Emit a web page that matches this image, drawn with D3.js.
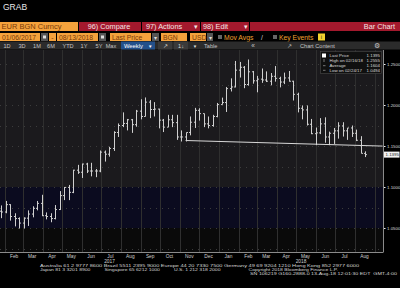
<!doctype html>
<html>
<head>
<meta charset='utf-8'>
<title>EUR BGN Curncy - Bar Chart</title>
<script src='https://d3js.org/d3.v7.min.js'></script>
<style>
  body { margin: 0; background: #000; }
  svg { display: block; font-family: 'Liberation Sans', Arial, sans-serif; }
</style>
</head>
<body>
<svg width='400' height='288'></svg>
<script>
// weekly bars (week ending), last one is the partial week of 13-Aug-18
var weeks = ['2017-01-06','2017-01-13','2017-01-20','2017-01-27','2017-02-03','2017-02-10','2017-02-17','2017-02-24',
  '2017-03-03','2017-03-10','2017-03-17','2017-03-24','2017-03-31','2017-04-07','2017-04-14','2017-04-21','2017-04-28',
  '2017-05-05','2017-05-12','2017-05-19','2017-05-26','2017-06-02','2017-06-09','2017-06-16','2017-06-23','2017-06-30',
  '2017-07-07','2017-07-14','2017-07-21','2017-07-28','2017-08-04','2017-08-11','2017-08-18','2017-08-25',
  '2017-09-01','2017-09-08','2017-09-15','2017-09-22','2017-09-29','2017-10-06','2017-10-13','2017-10-20','2017-10-27',
  '2017-11-03','2017-11-10','2017-11-17','2017-11-24','2017-12-01','2017-12-08','2017-12-15','2017-12-22','2017-12-29',
  '2018-01-05','2018-01-12','2018-01-19','2018-01-26','2018-02-02','2018-02-09','2018-02-16','2018-02-23',
  '2018-03-02','2018-03-09','2018-03-16','2018-03-23','2018-03-30','2018-04-06','2018-04-13','2018-04-20','2018-04-27',
  '2018-05-04','2018-05-11','2018-05-18','2018-05-25','2018-06-01','2018-06-08','2018-06-15','2018-06-22','2018-06-29',
  '2018-07-06','2018-07-13','2018-07-20','2018-07-27','2018-08-03','2018-08-10','2018-08-17'];
var opens = [1.0460,1.0530,1.0645,1.0705,1.0695,1.0785,1.0640,1.0615,
  1.0560,1.0620,1.0670,1.0740,1.0800,1.0650,1.0640,1.0615,1.0725,
  1.0895,1.0995,1.0935,1.1205,1.1180,1.1280,1.1195,1.1195,1.1195,
  1.1425,1.1400,1.1470,1.1665,1.1750,1.1775,1.1820,1.1760,
  1.1925,1.1860,1.2035,1.1945,1.1950,1.1815,1.1730,1.1820,1.1785,
  1.1610,1.1610,1.1665,1.1790,1.1935,1.1895,1.1770,1.1750,1.1860,
  1.2005,1.2030,1.2200,1.2220,1.2425,1.2460,1.2250,1.2405,
  1.2295,1.2315,1.2305,1.2290,1.2350,1.2325,1.2280,1.2330,1.2290,
  1.2130,1.1960,1.1940,1.1765,1.1650,1.1660,1.1770,1.1610,1.1655,
  1.1685,1.1745,1.1685,1.1720,1.1655,1.1570,1.1410];
var highs = [1.0630,1.0685,1.0775,1.0775,1.0830,1.0790,1.0680,1.0630,
  1.0630,1.0715,1.0765,1.0830,1.0905,1.0690,1.0680,1.0780,1.0950,
  1.1000,1.1025,1.1210,1.1270,1.1285,1.1295,1.1295,1.1220,1.1445,
  1.1445,1.1490,1.1680,1.1775,1.1910,1.1830,1.1830,1.1940,
  1.2070,1.2092,1.2060,1.2035,1.1955,1.1830,1.1880,1.1880,1.1880,
  1.1690,1.1665,1.1860,1.1965,1.1960,1.1895,1.1860,1.1880,1.2025,
  1.2090,1.2220,1.2325,1.2537,1.2525,1.2475,1.2555,1.2415,
  1.2355,1.2445,1.2410,1.2390,1.2475,1.2345,1.2395,1.2415,1.2295,
  1.2150,1.1995,1.1995,1.1830,1.1725,1.1840,1.1850,1.1675,1.1720,
  1.1790,1.1790,1.1720,1.1750,1.1700,1.1620,1.1435];
var lows = [1.0340,1.0455,1.0575,1.0620,1.0680,1.0590,1.0520,1.0494,
  1.0495,1.0525,1.0630,1.0715,1.0645,1.0605,1.0570,1.0605,1.0720,
  1.0840,1.0840,1.0925,1.1160,1.1110,1.1170,1.1130,1.1120,1.1180,
  1.1310,1.1370,1.1440,1.1610,1.1730,1.1690,1.1660,1.1735,
  1.1825,1.1860,1.1840,1.1860,1.1715,1.1670,1.1730,1.1730,1.1575,
  1.1555,1.1555,1.1630,1.1720,1.1810,1.1730,1.1715,1.1735,1.1850,
  1.2005,1.1915,1.2165,1.2215,1.2335,1.2205,1.2235,1.2260,
  1.2155,1.2270,1.2280,1.2240,1.2285,1.2215,1.2255,1.2285,1.2055,
  1.1910,1.1825,1.1750,1.1645,1.1510,1.1645,1.1540,1.1510,1.1525,
  1.1590,1.1615,1.1575,1.1610,1.1560,1.1410,1.1365];
var closes = [1.0530,1.0645,1.0705,1.0695,1.0785,1.0640,1.0615,1.0560,
  1.0620,1.0670,1.0740,1.0800,1.0650,1.0640,1.0615,1.0725,1.0895,
  1.0995,1.0935,1.1205,1.1180,1.1280,1.1195,1.1195,1.1195,1.1425,
  1.1400,1.1470,1.1665,1.1750,1.1775,1.1820,1.1760,1.1925,
  1.1860,1.2035,1.1945,1.1950,1.1815,1.1730,1.1820,1.1785,1.1610,
  1.1610,1.1665,1.1790,1.1935,1.1895,1.1770,1.1750,1.1860,1.2005,
  1.2030,1.2200,1.2220,1.2425,1.2460,1.2250,1.2405,1.2295,
  1.2315,1.2305,1.2290,1.2350,1.2325,1.2280,1.2330,1.2290,1.2130,
  1.1960,1.1940,1.1765,1.1650,1.1660,1.1770,1.1610,1.1655,1.1685,
  1.1745,1.1685,1.1720,1.1655,1.1570,1.1410,1.1395];

// hand drawn support line
var trendDates = ['2017-11-10', '2018-09-13'];
var trendValues = [1.1567, 1.1499];

var yTicks = [1.05, 1.10, 1.15, 1.20, 1.25];
var monthTicks = ['2017-02','2017-03','2017-04','2017-05','2017-06','2017-07','2017-08','2017-09','2017-10',
  '2017-11','2017-12','2018-01','2018-02','2018-03','2018-04','2018-05','2018-06','2018-07','2018-08'];
var monthLabels = ['Feb','Mar','Apr','May','Jun','Jul','Aug','Sep','Oct','Nov','Dec',
  'Jan','Feb','Mar','Apr','May','Jun','Jul','Aug'];
var yearLabels = ['2017', '2018'];

var legendLabels = ['Last Price', 'High on 02/16/18', 'Average', 'Low on 02/24/17'];
var legendValues = [1.1395, 1.2555, 1.1604, 1.0494];
var lastPrice = 1.1395;

var footerLines = [
  'Australia 61 2 9777 8600 Brazil 5511 2395 9000 Europe 44 20 7330 7500 Germany 49 69 9204 1210 Hong Kong 852 2977 6000',
  'Japan 81 3 3201 8900          Singapore 65 6212 1000          U.S. 1 212 318 2000                    Copyright 2018 Bloomberg Finance L.P.',
  'SN 106219 G160-2888-0 13-Aug-18 12:01:30 EDT  GMT-4:00'
];

var parseDay = d3.timeParse('%Y-%m-%d'),
    parseMonth = d3.timeParse('%Y-%m');

var svg = d3.select('svg');
svg.append('rect').attr('width', 400).attr('height', 288).attr('fill', '#000');

// ---- terminal header ----
var ui = svg.append('g');
function box(x, y, w, h, fill) {
  return ui.append('rect').attr('x', x).attr('y', y).attr('width', w).attr('height', h).attr('fill', fill);
}
function label(x, y, t, size, fill, anchor) {
  return ui.append('text').attr('x', x).attr('y', y).attr('font-size', size)
    .attr('fill', fill).attr('text-anchor', anchor || 'start').text(t);
}

label(3, 10, 'GRAB', 8.5, '#e8e8e8');

var red = '#a3192d', amber = '#f4a23c', ink = '#7a3a08';
box(0, 22, 78, 9, amber);
label(1.5, 29.3, 'EUR BGN Curncy', 7.5, ink);
box(79, 22, 62, 9, red);
label(109, 29.3, '96) Compare', 7.3, '#f3e4e4', 'middle');
box(142, 22, 58, 9, red);
label(146, 29.3, '97) Actions', 7.3, '#f3e4e4');
label(194, 29.3, '\u25BE', 7, '#f3e4e4');
box(201, 22, 48, 9, red);
label(203, 29.3, '98) Edit', 7.3, '#f3e4e4');
label(244, 29.3, '\u25BE', 7, '#f3e4e4');
box(250, 22, 150, 9, red);
label(395, 29.3, 'Bar Chart', 7.3, '#f3e4e4', 'end');

box(0, 33, 40, 8, amber);
label(2, 39.6, '01/06/2017', 6.8, ink);
box(41, 33, 7, 8, '#555');
box(43, 35.5, 3, 3, '#ddd');
box(49, 33, 7, 8, amber);
label(52.5, 39.6, '-', 6.8, ink, 'middle');
box(57, 33, 41, 8, amber);
label(59, 39.6, '08/13/2018', 6.8, ink);
box(99, 33, 7, 8, '#555');
box(101, 35.5, 3, 3, '#ddd');
box(110, 33, 41, 8, amber);
label(112, 39.6, 'Last Price', 6.8, ink);
box(152, 33, 7, 8, '#555');
label(155.5, 39.6, '\u25BE', 6, '#ddd', 'middle');
box(161, 33, 26, 8, amber);
label(163, 39.6, 'BGN', 6.8, ink);
box(190, 33, 16, 8, amber);
label(192, 39.6, 'USD', 6.8, ink);
box(207, 33, 6, 8, '#555');
label(210, 39.6, '\u25BE', 6, '#ddd', 'middle');
box(218, 35, 4, 4, '#666');
label(224, 39.6, 'Mov Avgs', 6.8, '#f0a030');
label(261, 39.6, '/', 6.8, '#ccc');
box(273, 35, 4, 4, '#666');
label(279, 39.6, 'Key Events', 6.8, '#f0a030');
box(318, 33.5, 7, 7, '#f2d22e');
label(321.5, 39.3, 'i', 6, '#333', 'middle');

box(0, 41.5, 400, 8, '#2b2b2b');
var periods = ['1D', '3D', '1M', '6M', 'YTD', '1Y', '5Y', 'Max'],
    periodX = [7, 22, 37, 51, 68, 84, 99, 111];
periods.forEach(function(p, i) {
  label(periodX[i], 47.6, p, 5.6, '#c4c4c4', 'middle');
});
box(121, 41.5, 34, 8, '#23508a');
label(124, 47.6, 'Weekly', 5.8, '#fff');
label(148, 47.6, '\u25BC', 4.5, '#fff');
box(158, 41.5, 14, 8, '#3a3a3a');
label(165, 47.6, '\u2197', 6, '#ddd', 'middle');
box(174, 41.5, 14, 8, '#3a3a3a');
label(181, 47.6, '1\u2193', 5.5, '#ddd', 'middle');
label(195, 47.6, '\u25BC', 4.5, '#ddd', 'middle');
label(204, 47.6, 'Table', 5.6, '#c4c4c4');
label(253, 47.6, '\u00AB', 6.5, '#c4c4c4', 'middle');
label(289, 47.6, '\u2197', 6, '#c4c4c4', 'middle');
label(300, 47.6, 'Chart Content', 5.6, '#c4c4c4');
label(377, 47.6, '\u2699', 6.5, '#c4c4c4', 'middle');

// ---- chart ----
var plot = {left: 0, right: 383, top: 50, bottom: 252};

var x = d3.scaleTime()
  .domain([new Date(2017, 1, 14), new Date(2018, 7, 15)])
  .range([13, 364]);
var y = d3.scaleLinear()
  .domain([1.05, 1.25])
  .range([228, 64]);

svg.append('clipPath').attr('id', 'plotclip')
  .append('rect').attr('x', plot.left).attr('y', plot.top)
  .attr('width', plot.right - plot.left).attr('height', plot.bottom - plot.top);

var g = svg.append('g').attr('clip-path', 'url(#plotclip)');

// background bands
var topPrice = y.invert(plot.top), bottomPrice = y.invert(plot.bottom);
[[topPrice, 1.10, '#1b1a1d'], [1.10, 1.05, '#0b0b1f'], [1.05, bottomPrice, '#0a0a0a']].forEach(function(b) {
  g.append('rect')
    .attr('x', plot.left).attr('width', plot.right - plot.left)
    .attr('y', y(b[0])).attr('height', y(b[1]) - y(b[0]))
    .attr('fill', b[2]);
});

// dotted price grid
g.selectAll('.dots')
  .data(d3.range(1.025, 1.27, 0.025))
  .enter().append('line')
  .attr('x1', plot.left).attr('x2', plot.right)
  .attr('y1', function(d) { return Math.round(y(d)) + 0.5; })
  .attr('y2', function(d) { return Math.round(y(d)) + 0.5; })
  .attr('stroke', '#3c3c3c')
  .attr('stroke-dasharray', '1,5');

// month grid
g.selectAll('.vgrid')
  .data(monthTicks.concat(['2018-09']))
  .enter().append('line')
  .attr('x1', function(d) { return Math.round(x(parseMonth(d))) + 0.5; })
  .attr('x2', function(d) { return Math.round(x(parseMonth(d))) + 0.5; })
  .attr('y1', plot.top).attr('y2', plot.bottom)
  .attr('stroke', '#2f2f2f');

// OHLC bars
var bars = weeks.map(function(w, i) {
  return {date: parseDay(w), open: opens[i], high: highs[i], low: lows[i], close: closes[i]};
});
var bar = g.selectAll('.bar')
  .data(bars)
  .enter().append('g')
  .attr('stroke', '#cfcfcf')
  .attr('stroke-width', 1);
function bx(d) { return Math.round(x(d.date)) + 0.5; }
bar.append('line')
  .attr('x1', bx).attr('x2', bx)
  .attr('y1', function(d) { return y(d.high); })
  .attr('y2', function(d) { return y(d.low); });
bar.append('line')
  .attr('x1', function(d) { return bx(d) - 1.5; }).attr('x2', bx)
  .attr('y1', function(d) { return y(d.open); })
  .attr('y2', function(d) { return y(d.open); });
bar.append('line')
  .attr('x1', bx).attr('x2', function(d) { return bx(d) + 1.5; })
  .attr('y1', function(d) { return y(d.close); })
  .attr('y2', function(d) { return y(d.close); });

// support line
g.append('path')
  .datum(trendDates.map(function(d, i) { return {date: parseDay(d), value: trendValues[i]}; }))
  .attr('fill', 'none')
  .attr('stroke', '#d8d8d8')
  .attr('stroke-width', 1)
  .attr('d', d3.line()
    .x(function(d) { return x(d.date); })
    .y(function(d) { return y(d.value); }));

// right price axis
var yAxis = svg.append('g')
  .attr('transform', 'translate(' + (plot.right + 0.5) + ',0)')
  .call(d3.axisRight(y).tickValues(yTicks).tickFormat(d3.format('.4f')).tickSize(2).tickPadding(1.5));
yAxis.select('.domain').remove();
yAxis.selectAll('line').attr('stroke', '#eee');
yAxis.selectAll('text').attr('fill', '#dcdcdc').attr('font-size', 4.4).attr('font-family', 'Liberation Sans, Arial, sans-serif');
svg.append('line')
  .attr('x1', plot.right + 0.5).attr('x2', plot.right + 0.5)
  .attr('y1', plot.top).attr('y2', plot.bottom + 0.5)
  .attr('stroke', '#8a8a8a');

// last price tag
svg.append('rect')
  .attr('x', plot.right + 1).attr('y', y(lastPrice) - 3)
  .attr('width', 15.5).attr('height', 6)
  .attr('fill', '#f2f2f2');
svg.append('text')
  .attr('x', plot.right + 2.5).attr('y', y(lastPrice) + 1.5)
  .attr('font-size', 4.4).attr('fill', '#222')
  .text(d3.format('.4f')(lastPrice));

// month axis
svg.append('line')
  .attr('x1', plot.left).attr('x2', plot.right)
  .attr('y1', plot.bottom + 0.5).attr('y2', plot.bottom + 0.5)
  .attr('stroke', '#8a8a8a');
var xAxis = svg.append('g')
  .attr('transform', 'translate(0,' + plot.bottom + ')')
  .call(d3.axisBottom(x)
    .tickValues(monthTicks.map(function(m) { return d3.timeDay.offset(parseMonth(m), 14); }))
    .tickFormat(function(d, i) { return monthLabels[i]; })
    .tickSize(0).tickPadding(2.2));
xAxis.select('.domain').remove();
xAxis.selectAll('text').attr('fill', '#cfcfcf').attr('font-size', 4.8).attr('font-family', 'Liberation Sans, Arial, sans-serif');

svg.selectAll('.year')
  .data(yearLabels)
  .enter().append('text')
  .attr('x', function(d) {
    var a = Math.max(plot.left, x(new Date(+d, 0, 1))),
        b = Math.min(plot.right, x(new Date(+d + 1, 0, 1)));
    return (a + b) / 2;
  })
  .attr('y', 262.5)
  .attr('text-anchor', 'middle')
  .attr('font-size', 4.8)
  .attr('fill', '#cfcfcf')
  .text(function(d) { return d; });

// legend
var legend = svg.append('g');
legend.append('rect')
  .attr('x', 320.5).attr('y', 51.5).attr('width', 61).attr('height', 22)
  .attr('fill', '#101010').attr('stroke', '#4a4a4a').attr('stroke-width', 0.6);
legend.append('rect').attr('x', 322).attr('y', 53.5).attr('width', 4).attr('height', 4).attr('fill', '#fff');
legend.append('line').attr('x1', 324).attr('x2', 324).attr('y1', 59).attr('y2', 62).attr('stroke', '#bbb').attr('stroke-width', 0.6);
legend.append('line').attr('x1', 323).attr('x2', 325.5).attr('y1', 65.7).attr('y2', 65.7).attr('stroke', '#bbb').attr('stroke-width', 0.6);
legend.append('line').attr('x1', 323).attr('x2', 325.5).attr('y1', 70.3).attr('y2', 70.3).attr('stroke', '#bbb').attr('stroke-width', 0.6);
var row = legend.selectAll('.row')
  .data(legendLabels)
  .enter().append('g')
  .attr('transform', function(d, i) { return 'translate(0,' + (57.2 + i * 4.85) + ')'; })
  .attr('font-size', 4.4)
  .attr('fill', '#d8d8d8');
row.append('text').attr('x', 329.5).text(function(d) { return d; });
row.append('text').attr('x', 380).attr('text-anchor', 'end')
  .text(function(d, i) { return d3.format('.4f')(legendValues[i]); });

// footer
var footerX = [40, 40, 250], footerW = [319, 298, 147], footerY = [266.5, 270.8, 275];
svg.selectAll('.foot')
  .data(footerLines)
  .enter().append('text')
  .attr('x', function(d, i) { return footerX[i]; })
  .attr('y', function(d, i) { return footerY[i]; })
  .attr('textLength', function(d, i) { return footerW[i]; })
  .attr('lengthAdjust', 'spacingAndGlyphs')
  .attr('font-size', 4.4)
  .attr('fill', '#d4d4d4')
  .attr('xml:space', 'preserve')
  .style('white-space', 'pre')
  .text(function(d) { return d; });
</script>
</body>
</html>
